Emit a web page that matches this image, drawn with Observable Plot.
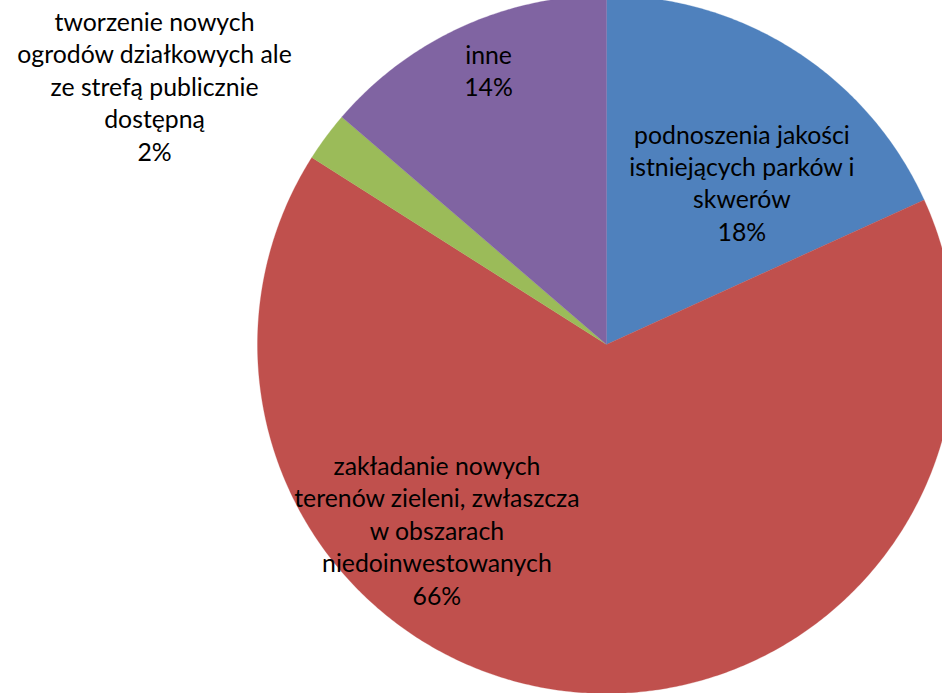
<!DOCTYPE html>
<html>
<head>
<meta charset="utf-8">
<script src="https://cdn.jsdelivr.net/npm/d3@7"></script>
<script src="https://cdn.jsdelivr.net/npm/@observablehq/plot@0.6"></script>
<style>
  html, body { margin: 0; padding: 0; background: #fff; overflow: hidden; }
  #chart { width: 942px; height: 693px; }
</style>
</head>
<body>
<div id="chart"></div>
<script>
// Categories (clockwise from 12 o'clock), with their printed label lines
const categories = [
  "podnoszenia jakości istniejących parków i skwerów",
  "zakładanie nowych terenów zieleni, zwłaszcza w obszarach niedoinwestowanych",
  "tworzenie nowych ogrodów działkowych ale ze strefą publicznie dostępną",
  "inne"
];
const labelLines = [
  ["podnoszenia jakości", "istniejących parków i", "skwerów"],
  ["zakładanie nowych", "terenów zieleni, zwłaszcza", "w obszarach", "niedoinwestowanych"],
  ["tworzenie nowych", "ogrodów działkowych ale", "ze strefą publicznie", "dostępną"],
  ["inne"]
];
// Slice shares and printed percentages
const values = [18.2, 65.8, 2.3, 13.7];
const percentLabels = ["18%", "66%", "2%", "14%"];
const colors = ["#4F81BD", "#C0504D", "#9BBB59", "#8064A2"];

// Label anchor points in pie units (radius = 1), as placed in the original
const labelAnchors = [
  [0.388, 0.466],
  [-0.486, -0.530],
  [-1.295, 0.742],
  [-0.338, 0.788]
];

// Build slice polygons (angle measured clockwise from top)
const total = d3.sum(values);
const slicePts = [];
let acc = 0;
values.forEach((v, i) => {
  const a0 = acc / total * 2 * Math.PI;
  acc += v;
  const a1 = acc / total * 2 * Math.PI;
  const key = categories[i];
  slicePts.push({key, x: 0, y: 0});
  const n = Math.max(2, Math.ceil((a1 - a0) / (Math.PI / 360)));
  for (let k = 0; k <= n; k++) {
    const a = a0 + (a1 - a0) * k / n;
    slicePts.push({key, x: Math.sin(a), y: Math.cos(a)});
  }
  slicePts.push({key, x: 0, y: 0});
});

const labels = categories.map((c, i) => ({
  key: c,
  x: labelAnchors[i][0],
  y: labelAnchors[i][1],
  text: [...labelLines[i], percentLabels[i]].join("\n")
}));

const cx = 606, cy = 344, R = 349;
const chart = Plot.plot({
  width: 942,
  height: 693,
  margin: 0,
  style: {background: "#fff", fontFamily: "Lato, 'Open Sans', sans-serif"},
  x: {domain: [-1, 1], range: [cx - R, cx + R], axis: null},
  y: {domain: [-1, 1], range: [cy + R, cy - R], axis: null},
  color: {domain: categories, range: colors},
  marks: [
    Plot.line(slicePts, {x: "x", y: "y", z: "key", fill: "key", stroke: "key", strokeWidth: 0.3, curve: "linear"}),
    Plot.text(labels, {
      x: "x", y: "y", text: "text",
      fontSize: 24.8, lineHeight: 1.31, fill: "#000",
      textAnchor: "middle", lineAnchor: "middle"
    })
  ]
});
document.getElementById("chart").appendChild(chart);
</script>
</body>
</html>
